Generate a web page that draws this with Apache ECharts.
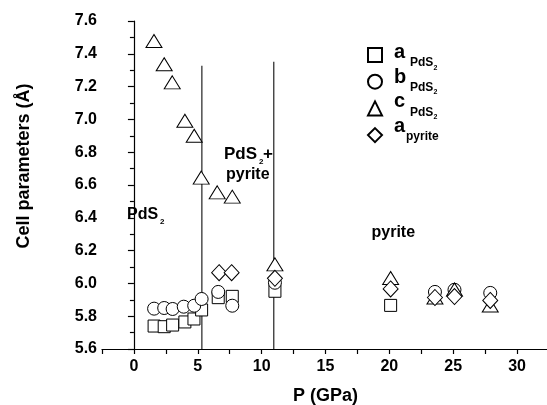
<!DOCTYPE html>
<html lang="en">
<head>
<meta charset="UTF-8">
<title>Cell parameters vs pressure</title>
<script src="https://cdn.jsdelivr.net/npm/echarts@6/dist/echarts.min.js"></script>
</head>
<body style="margin: 0; background: #fff">
<div id="chart" style="width: 547px; height: 405px"></div>
<script>
    // pressures (GPa) and cell parameters (Angstrom)
    const pA = [1.58, 2.37, 3.03, 3.99, 4.70, 5.30, 6.60, 7.70, 11.04, 20.1];
    const aPdS2 = [5.740, 5.736, 5.746, 5.765, 5.783, 5.838, 5.913, 5.921, 5.952, 5.866];

    const pB = [1.58, 2.37, 3.03, 3.90, 4.72, 5.30, 6.60, 7.70, 11.04, 23.57, 25.1, 27.9];
    const bPdS2 = [5.846, 5.850, 5.844, 5.858, 5.864, 5.905, 5.948, 5.864, 6.004, 5.948, 5.961, 5.942];

    const pC = [1.57, 2.37, 3.00, 3.99, 4.72, 5.27, 6.52, 7.70, 11.04, 20.1, 23.57, 25.1, 27.9];
    const cPdS2 = [7.478, 7.336, 7.226, 6.992, 6.900, 6.645, 6.555, 6.529, 6.116, 6.033, 5.914, 5.963, 5.865];

    const pD = [6.67, 7.65, 11.04, 20.1, 23.57, 25.1, 27.9];
    const aPyrite = [6.065, 6.065, 6.031, 5.966, 5.914, 5.920, 5.896];

    // phase boundaries
    const phaseX = [5.32, 10.95];
    const phaseTop = [7.327, 7.352];

    const seriesNames = ['aPdS2', 'bPdS2', 'cPdS2', 'apyrite'];
    // legend labels: main letter + subscript (+ small index)
    const legendMain = ['a', 'b', 'c', 'a'];
    const legendSub = ['PdS', 'PdS', 'PdS', 'pyrite'];
    const legendIdx = ['2', '2', '2', ''];

    const FONT = '"Liberation Sans", Arial, sans-serif';

    function pairs(xs, ys) {
        return xs.map(function (x, i) { return [x, ys[i]]; });
    }

    function scatter(name, xs, ys, symbol, size) {
        return {
            name: name,
            type: 'scatter',
            data: pairs(xs, ys),
            symbol: symbol,
            symbolSize: size,
            itemStyle: {color: '#fff', borderColor: '#000', borderWidth: 1, opacity: 1},
            emphasis: {disabled: true}
        };
    }

    function txt(str, x, y, size) {
        return {type: 'text', x: x, y: y,
            style: {text: str, font: 'bold ' + size + 'px ' + FONT, fill: '#000', align: 'left', verticalAlign: 'middle'}};
    }

    let lines = [];
    for (let i = 0; i < phaseX.length; i++) {
        lines.push({
            name: 'phase' + i,
            type: 'line',
            data: [[phaseX[i], 5.6], [phaseX[i], phaseTop[i]]],
            symbol: 'none',
            lineStyle: {color: '#222', width: 1.2},
            z: 1
        });
    }

    // legend layout
    const legX = 374, legY = 54, legStep = 24.7;
    let graphics = [
        {type: 'text', x: 24, y: 166, rotation: Math.PI / 2,
            style: {text: 'Cell parameters (Å)', font: 'bold 18px ' + FONT, fill: '#000',
                align: 'center', verticalAlign: 'middle'}},
        txt('PdS', 127, 214.5, 16),
        txt('2', 160, 221.5, 8),
        txt('PdS', 224, 154, 17),
        txt('2', 259, 161.5, 8),
        txt('+', 263, 154, 17),
        txt('pyrite', 226, 174.5, 16),
        txt('pyrite', 371.5, 233, 16)
    ];
    for (let i = 0; i < legendMain.length; i++) {
        let y = legY + i * legStep;
        let subX = legendIdx[i] ? legX + 36 : legX + 32;
        graphics.push(txt(legendMain[i], legX + 20, y - 1.7, 20));
        graphics.push(txt(legendSub[i], subX, y + 8.8, 12));
        if (legendIdx[i]) {
            graphics.push(txt(legendIdx[i], subX + 23.5, y + 13.6, 7));
        }
    }

    let myChart = echarts.init(document.getElementById('chart'));
    let option = {
        animation: false,
        backgroundColor: '#fff',
        grid: {left: 102, right: -2, top: 21, bottom: 56, outerBoundsMode: 'none'},
        xAxis: {
            type: 'value',
            min: -2.5,
            max: 32.5,
            interval: 2.5,
            splitLine: {show: false},
            axisLine: {lineStyle: {color: '#000', width: 1.2}},
            axisTick: {length: 5, lineStyle: {color: '#000', width: 1.2}},
            axisLabel: {
                margin: 10,
                color: '#000',
                fontSize: 16,
                fontWeight: 'bold',
                fontFamily: FONT,
                formatter: function (v) { return v % 5 === 0 ? String(v) : ''; }
            },
            name: 'P (GPa)',
            nameLocation: 'middle',
            nameGap: 38,
            nameTextStyle: {color: '#000', fontSize: 18, fontWeight: 'bold', fontFamily: FONT}
        },
        yAxis: {
            type: 'value',
            min: 5.6,
            max: 7.6,
            interval: 0.2,
            splitLine: {show: false},
            axisLine: {show: true, lineStyle: {color: '#000', width: 1.2}},
            axisTick: {show: true, length: 6, lineStyle: {color: '#000', width: 1.2}},
            minorTick: {show: true, splitNumber: 2, length: 4, lineStyle: {color: '#000', width: 1.2}},
            axisLabel: {
                margin: 5,
                color: '#000',
                fontSize: 16,
                fontWeight: 'bold',
                fontFamily: FONT,
                formatter: function (v) { return v.toFixed(1); }
            }
        },
        legend: {
            data: seriesNames,
            orient: 'vertical',
            left: legX - 7,
            top: legY - 7,
            padding: 0,
            itemGap: legStep - 14,
            itemWidth: 14,
            itemHeight: 14,
            selectedMode: false,
            formatter: function () { return ''; }
        },
        graphic: graphics,
        series: lines.concat([
            scatter('aPdS2', pA, aPdS2, 'rect', 12),
            scatter('bPdS2', pB, bPdS2, 'circle', 13),
            scatter('cPdS2', pC, cPdS2, 'triangle', [16, 13]),
            scatter('apyrite', pD, aPyrite, 'diamond', [15, 16])
        ])
    };
    myChart.setOption(option, true);
</script>
</body>
</html>
